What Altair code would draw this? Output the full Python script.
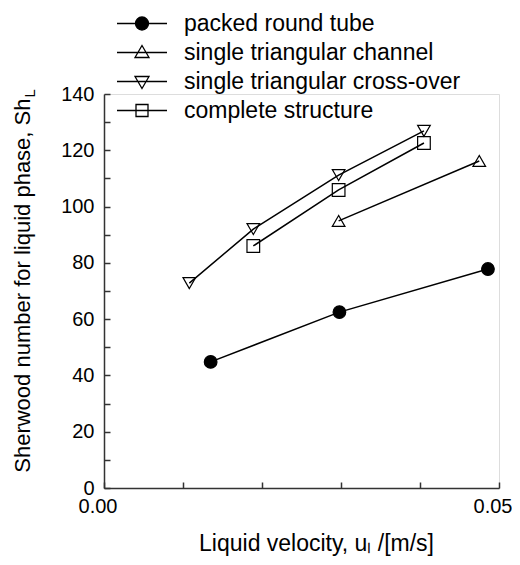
import altair as alt
import pandas as pd

series_names = ["packed round tube", "single triangular channel",
                "single triangular cross-over", "complete structure"]

packed_x = [0.0135, 0.0298, 0.0486]
packed_y = [44.8, 62.5, 77.8]
channel_x = [0.0297, 0.0475]
channel_y = [94.9, 116.2]
cross_x = [0.0108, 0.0189, 0.0297, 0.0405]
cross_y = [72.8, 92.0, 111.2, 126.9]
complete_x = [0.0189, 0.0297, 0.0405]
complete_y = [86.0, 105.9, 122.6]

x_ticks = [0.0, 0.01, 0.02, 0.03, 0.04, 0.05]
x_labels = [0.0, 0.05]
y_ticks = list(range(0, 141, 10))
y_labels = list(range(0, 141, 20))

rows = []
for name, xs_, ys_ in zip(series_names,
                          [packed_x, channel_x, cross_x, complete_x],
                          [packed_y, channel_y, cross_y, complete_y]):
    for xv, yv in zip(xs_, ys_):
        rows.append({"series": name, "u": xv, "sh": yv})
df = pd.DataFrame(rows)

FONT = "Liberation Sans"
W, H = 395, 394

xs = alt.Scale(domain=[0, 0.05], nice=False, zero=False)
ys = alt.Scale(domain=[0, 140], nice=False)

lines = alt.Chart(df).mark_line(color="black", strokeWidth=1.5).encode(
    x=alt.X("u:Q", scale=xs, axis=alt.Axis(
        values=x_labels, format=".2f", ticks=False, grid=False, labelFlush=False,
        labelAlign="right", labelOffset=13,
        domainColor="#333", domainWidth=1.5, labelFontSize=20, labelFont=FONT,
        labelColor="black", labelPadding=8,
        title="Liquid velocity, uₗ /[m/s]", titleFont=FONT, titleFontSize=23,
        titleFontWeight="normal", titleColor="black",
        titleAlign="center", titleBaseline="middle", titleX=212, titleY=55)),
    y=alt.Y("sh:Q", scale=ys, axis=alt.Axis(
        values=y_labels, ticks=False, grid=False,
        domainColor="#333", domainWidth=1.5, labelFontSize=20, labelFont=FONT,
        labelColor="black", labelPadding=10,
        title="Sherwood number for liquid phase, Sh", titleFont=FONT,
        titleFontSize=22, titleFontWeight="normal", titleColor="black",
        titleAngle=270, titleAlign="right", titleBaseline="middle",
        titleX=-82, titleY=4)),
    detail="series:N",
)

# tick-only axes (inward ticks) carried by an empty layer
tick_layer = alt.Chart(df).transform_filter("false").mark_point().encode(
    x=alt.X("u:Q", scale=xs, axis=alt.Axis(
        orient="top", offset=-H, values=x_ticks, labels=False, domain=False,
        grid=False, tickSize=6, tickColor="#333", tickWidth=1.5,
        title="L", titleFont=FONT, titleFontSize=15, titleFontWeight="normal",
        titleColor="black", titleAngle=270, titleAlign="left",
        titleBaseline="middle", titleX=-75, titleY=-391)),
    y=alt.Y("sh:Q", scale=ys, axis=alt.Axis(
        orient="right", offset=-W, values=y_ticks, labels=False, domain=False,
        grid=False, tickSize=6, tickColor="#333", tickWidth=1.5, title=None)),
)

marker_shapes = ["circle", "triangle-up", "triangle-down", "square"]
marker_fills = ["black", "transparent", "transparent", "transparent"]
point_layers = []
for name, shp, fc in zip(series_names, marker_shapes, marker_fills):
    point_layers.append(
        alt.Chart(df).transform_filter(alt.datum.series == name).mark_point(
            shape=shp, size=160, strokeWidth=1.2, stroke="black", fill=fc,
            opacity=1, fillOpacity=1
        ).encode(
            x=alt.X("u:Q", scale=xs, axis=None),
            y=alt.Y("sh:Q", scale=ys, axis=None),
        )
    )

# legend symbols: line through marker (unit = 12.5 px)
leg_paths = [
    "M-2,0L2,0M0.52,0A0.52,0.52,0,1,1,-0.52,0A0.52,0.52,0,1,1,0.52,0Z",
    "M-2,0L2,0M0,-0.56L0.56,0.4L-0.56,0.4Z",
    "M-2,0L2,0M0,0.56L0.56,-0.4L-0.56,-0.4Z",
    "M-2,0L2,0M-0.48,-0.48L0.48,-0.48L0.48,0.48L-0.48,0.48Z",
]

legend_layer = alt.Chart(df).transform_filter("false").mark_point(
    size=625, strokeWidth=1.3, opacity=1).encode(
    x=alt.X("u:Q", scale=xs, axis=None),
    y=alt.Y("sh:Q", scale=ys, axis=None),
    shape=alt.Shape("series:N", scale=alt.Scale(domain=series_names, range=leg_paths),
                    legend=alt.Legend(
                        title=None, orient="none", legendX=24.5, legendY=-84,
                        symbolSize=625, symbolStrokeWidth=1.3, symbolOpacity=1,
                        labelFont=FONT, labelFontSize=23, labelColor="black",
                        labelOffset=28.5, rowPadding=3, padding=0,
                        labelLimit=400)),
    fill=alt.Fill("series:N", scale=alt.Scale(domain=series_names, range=marker_fills)),
    stroke=alt.Stroke("series:N", scale=alt.Scale(
        domain=series_names, range=["black", "black", "black", "black"])),
)

chart = alt.layer(lines, tick_layer, *point_layers, legend_layer).resolve_axis(
    x="independent", y="independent"
).properties(
    width=W, height=H,
    autosize=alt.AutoSizeParams(type="none"),
    padding={"left": 96, "top": 86, "right": 13, "bottom": 69},
).configure_view(stroke=None).configure(background="white")

chart.save("out.html", embed_options={"renderer": "svg", "actions": False})
